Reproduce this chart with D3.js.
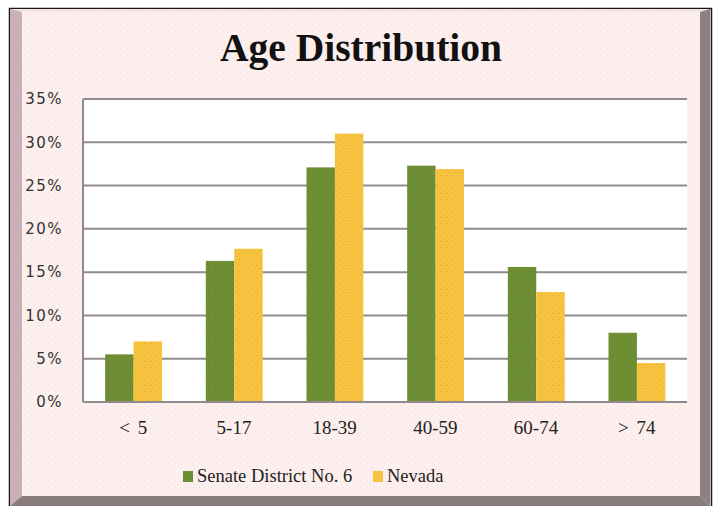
<!DOCTYPE html>
<html>
<head>
<meta charset="utf-8">
<script src="https://cdn.jsdelivr.net/npm/d3@7"></script>
<style>
  html, body { margin: 0; padding: 0; background: #fff; }
  svg { display: block; }
</style>
</head>
<body>
<script>
// chart data
var categories = ["< 5", "5-17", "18-39", "40-59", "60-74", "> 74"];
var seriesNames = ["Senate District No. 6", "Nevada"];
var district = [0.055, 0.163, 0.271, 0.273, 0.156, 0.080];
var nevada = [0.070, 0.177, 0.310, 0.269, 0.127, 0.045];
var yTicks = [0, 0.05, 0.10, 0.15, 0.20, 0.25, 0.30, 0.35];
var colors = ["#6c8f33", "#f5c33e"];

var width = 718, height = 506;
var plot = {left: 83, top: 99, right: 687, bottom: 402};

var svg = d3.select("body").append("svg")
    .attr("width", width)
    .attr("height", height);

// dotted textures like the original gif
var defs = svg.append("defs");
function dots(id, base, dot, bg) {
  var p = defs.append("pattern")
      .attr("id", id)
      .attr("patternUnits", "userSpaceOnUse")
      .attr("width", 6).attr("height", 6);
  p.append("rect").attr("width", 6).attr("height", 6).attr("fill", base);
  p.append("rect").attr("x", 1).attr("y", 1).attr("width", 1).attr("height", 1).attr("fill", dot);
  p.append("rect").attr("x", 4).attr("y", 4).attr("width", 1).attr("height", 1).attr("fill", bg || dot);
}
dots("bgDots", "#fcefed", "#f1d9dc", "#f6e2e2");
dots("greenDots", colors[0], "#8a6a36", "#7a8a3a");
dots("yellowDots", colors[1], "#e0a040", "#e6b040");

// frame with bevels
svg.append("rect")
    .attr("x", 9.5).attr("y", 8.5)
    .attr("width", 702).attr("height", 500)
    .attr("fill", "#fcefed")
    .attr("stroke", "#1a1a1a")
    .attr("stroke-width", 1.5);
svg.append("polygon") // top
    .attr("points", "10,9 710,9 700,12 22,12")
    .attr("fill", "#f3e3e3");
svg.append("polygon") // left
    .attr("points", "10,9 22,12 22,496 10,506")
    .attr("fill", "#c9afb8");
svg.append("polygon") // right
    .attr("points", "710,9 710,506 700,496 700,12")
    .attr("fill", "#8b8183");
svg.append("polygon") // bottom
    .attr("points", "10,506 22,496 700,496 710,506")
    .attr("fill", "#877b7c");
svg.append("rect")
    .attr("x", 22).attr("y", 12)
    .attr("width", 678).attr("height", 484)
    .attr("fill", "url(#bgDots)");

// title
svg.append("text")
    .attr("x", 361).attr("y", 61)
    .attr("text-anchor", "middle")
    .style("font-family", "'Liberation Serif', 'Times New Roman', serif")
    .style("font-weight", "bold")
    .style("font-size", "39.5px")
    .style("fill", "#111")
    .text("Age Distribution");

var x = d3.scaleBand()
    .domain(categories)
    .range([plot.left, plot.right]);

var bw = x.bandwidth();
var xSub = d3.scaleBand()
    .domain(seriesNames)
    .range([bw * 0.22, bw * 0.785]);

var y = d3.scaleLinear()
    .domain([0, 0.35])
    .range([plot.bottom, plot.top]);

svg.append("rect")
    .attr("x", plot.left).attr("y", plot.top)
    .attr("width", plot.right - plot.left)
    .attr("height", plot.bottom - plot.top)
    .attr("fill", "#fff");

// gridlines
svg.append("g").selectAll("line")
    .data(yTicks)
  .enter().append("line")
    .attr("x1", plot.left).attr("x2", plot.right)
    .attr("y1", function(d) { return y(d); })
    .attr("y2", function(d) { return y(d); })
    .attr("stroke", "#8f8b8e")
    .attr("stroke-width", 2);

svg.append("line")
    .attr("x1", plot.left).attr("x2", plot.left)
    .attr("y1", plot.top).attr("y2", plot.bottom)
    .attr("stroke", "#8f8b8e")
    .attr("stroke-width", 2);

// bars
var rows = categories.map(function(c, i) {
  return {cat: c, values: [
    {name: seriesNames[0], v: district[i], fill: "url(#greenDots)"},
    {name: seriesNames[1], v: nevada[i], fill: "url(#yellowDots)"}
  ]};
});

var groups = svg.append("g").selectAll("g")
    .data(rows)
  .enter().append("g")
    .attr("transform", function(d) { return "translate(" + x(d.cat) + ",0)"; });

groups.selectAll("rect")
    .data(function(d) { return d.values; })
  .enter().append("rect")
    .attr("x", function(d) { return xSub(d.name); })
    .attr("width", xSub.bandwidth())
    .attr("y", function(d) { return y(d.v); })
    .attr("height", function(d) { return plot.bottom - 1 - y(d.v); })
    .attr("fill", function(d) { return d.fill; });

// y axis labels
var yAxis = d3.axisLeft(y)
    .tickValues(yTicks)
    .tickSize(0)
    .tickPadding(20)
    .tickFormat(d3.format(".0%"));

svg.append("g")
    .attr("transform", "translate(" + plot.left + ",0)")
    .call(yAxis)
    .call(function(g) { g.select(".domain").remove(); })
    .selectAll("text")
    .style("font-family", "'DejaVu Sans', Verdana, sans-serif")
    .style("font-size", "15px")
    .style("letter-spacing", "1.5px")
    .style("fill", "#333");

// x axis labels
var xAxis = d3.axisBottom(x)
    .tickSize(0)
    .tickPadding(19);

svg.append("g")
    .attr("transform", "translate(0," + plot.bottom + ")")
    .call(xAxis)
    .call(function(g) { g.select(".domain").remove(); })
    .selectAll("text")
    .style("font-family", "'Liberation Serif', 'Times New Roman', serif")
    .style("font-size", "19px")
    .style("word-spacing", "3px")
    .style("fill", "#222");

// legend
var legendX = [183, 373];
var legend = svg.append("g").selectAll("g")
    .data(seriesNames)
  .enter().append("g")
    .attr("transform", function(d, i) { return "translate(" + legendX[i] + ",471)"; });

legend.append("rect")
    .attr("width", 10).attr("height", 11)
    .attr("fill", function(d, i) { return colors[i]; });

legend.append("text")
    .attr("x", 14).attr("y", 11)
    .style("font-family", "'Liberation Serif', 'Times New Roman', serif")
    .style("font-size", "18.5px")
    .style("fill", "#222")
    .text(function(d) { return d; });
</script>
</body>
</html>
